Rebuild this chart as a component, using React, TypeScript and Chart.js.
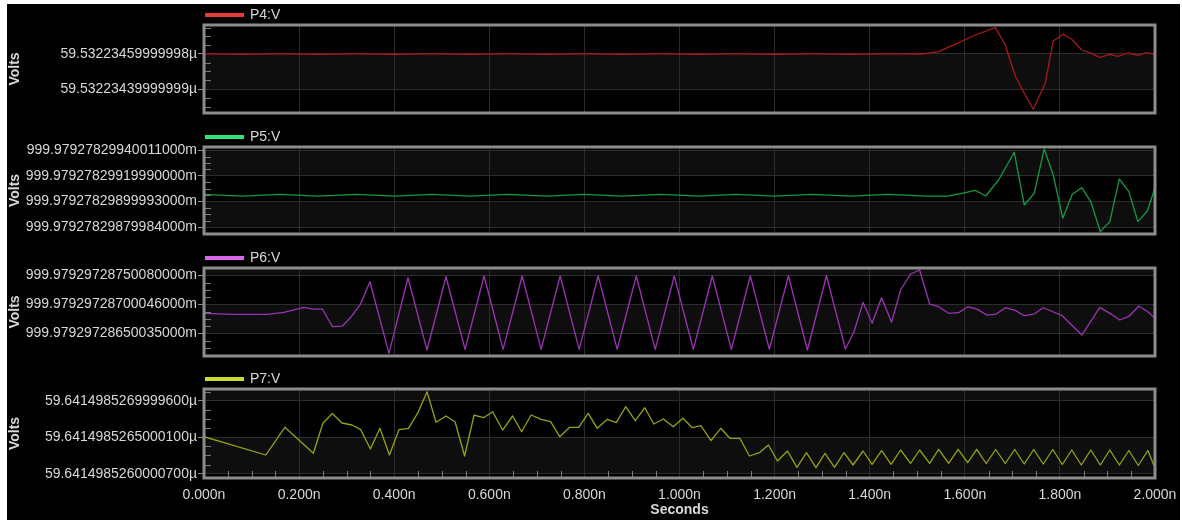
import React, { useEffect, useRef } from 'react';
import { Chart, registerables } from 'chart.js';

Chart.register(...registerables);

// ---------- data ----------
const X_TICKS = [0, 0.2, 0.4, 0.6, 0.8, 1.0, 1.2, 1.4, 1.6, 1.8, 2.0];
const X_TICK_LABELS = ['0.000n', '0.200n', '0.400n', '0.600n', '0.800n', '1.000n', '1.200n', '1.400n', '1.600n', '1.800n', '2.000n'];

const P4_T = [0, 0.08, 0.16, 0.24, 0.32, 0.40, 0.48, 0.56, 0.64, 0.72, 0.80, 0.88, 0.96, 1.04, 1.12, 1.20, 1.28, 1.36, 1.44, 1.51,
  1.545, 1.587, 1.622, 1.664, 1.685, 1.706, 1.727, 1.744, 1.769, 1.786, 1.807, 1.825, 1.846, 1.866, 1.884, 1.905, 1.922, 1.943, 1.964, 1.982, 2.0];
const P4_V = [59.5322346005, 59.5322345985, 59.5322346005, 59.5322345985, 59.5322346005, 59.5322345985, 59.5322346005, 59.5322345985,
  59.5322346005, 59.5322345985, 59.5322346005, 59.5322345985, 59.5322346005, 59.5322345985, 59.5322346005, 59.5322345985,
  59.5322346005, 59.5322345985, 59.5322346005, 59.5322346,
  59.5322346131, 59.5322346646, 59.5322347086, 59.5322347503, 59.5322346514, 59.5322344743, 59.5322343657, 59.532234284,
  59.5322344326, 59.5322346743, 59.5322347126, 59.532234684, 59.5322346229, 59.532234604, 59.5322345811, 59.5322345983,
  59.5322345869, 59.5322346057, 59.5322345926, 59.5322346074, 59.5322345983];
const P4_TICKS = [59.5322344, 59.5322346];
const P4_TICK_LABELS = ['59.53223439999999µ', '59.53223459999998µ'];
const P4_RANGE = [59.53223426286, 59.53223476571];

const P5_T = [0, 0.08, 0.16, 0.24, 0.32, 0.40, 0.48, 0.56, 0.64, 0.72, 0.80, 0.88, 0.96, 1.04, 1.12, 1.20, 1.28, 1.36, 1.44, 1.52,
  1.566, 1.594, 1.622, 1.644, 1.671, 1.704, 1.725, 1.746, 1.767, 1.786, 1.806, 1.826, 1.846, 1.865, 1.885, 1.905, 1.925, 1.945, 1.964, 1.984, 2.0];
const P5_V = [999.9792782990550, 999.9792782990420, 999.9792782990550, 999.9792782990420, 999.9792782990550, 999.9792782990420,
  999.9792782990550, 999.9792782990420, 999.9792782990550, 999.9792782990420, 999.9792782990550, 999.9792782990420,
  999.9792782990550, 999.9792782990420, 999.9792782990550, 999.9792782990420, 999.9792782990550, 999.9792782990420,
  999.9792782990550, 999.9792782990420,
  999.9792782990430, 999.9792782990641, 999.9792782990875, 999.9792782990430, 999.9792782991680, 999.9792782993844,
  999.9792782989727, 999.9792782990641, 999.9792782994102, 999.9792782992070, 999.9792782988688, 999.9792782990563,
  999.9792782991078, 999.9792782989984, 999.9792782987641, 999.9792782988422, 999.9792782991758, 999.9792782990766,
  999.9792782988422, 999.9792782989258, 999.9792782991078];
const P5_TICKS = [999.97927829879984, 999.97927829899993, 999.9792782991999, 999.97927829940011];
const P5_TICK_LABELS = ['999.97927829879984000m', '999.97927829899993000m', '999.97927829919990000m', '999.97927829940011000m'];
const P5_RANGE = [999.979278298746, 999.9792782994257];

const P6_T = [0, 0.064, 0.134, 0.168, 0.21, 0.228, 0.249, 0.27, 0.291, 0.308, 0.329,
  0.349, 0.389, 0.429, 0.469, 0.509, 0.549, 0.589, 0.629, 0.669, 0.709, 0.749, 0.789, 0.829, 0.869, 0.909, 0.949, 0.989,
  1.029, 1.069, 1.109, 1.149, 1.189, 1.229, 1.269, 1.309, 1.349,
  1.367, 1.386, 1.405, 1.425, 1.446, 1.465, 1.486, 1.505, 1.526, 1.545, 1.566, 1.587, 1.606, 1.627, 1.646, 1.666, 1.685,
  1.706, 1.725, 1.746, 1.765, 1.785, 1.805, 1.846, 1.884, 1.905, 1.926, 1.946, 1.966, 1.985, 2.0];
const P6_V = [999.9792972868488, 999.9792972868316, 999.9792972868316, 999.979297286866, 999.9792972869519, 999.9792972869227,
  999.9792972869227, 999.9792972866186, 999.9792972866306, 999.9792972867732, 999.9792972870034,
  999.9792972873918, 999.9792972861615, 999.9792972874605, 999.9792972862182, 999.9792972874777, 999.9792972862302,
  999.9792972874897, 999.9792972862302, 999.9792972874897, 999.9792972862302, 999.9792972874897, 999.9792972862302,
  999.9792972874897, 999.9792972862302, 999.9792972874897, 999.9792972862302, 999.9792972874897, 999.9792972862302,
  999.9792972874897, 999.9792972862302, 999.9792972874897, 999.9792972862302, 999.9792972874948, 999.9792972862182,
  999.9792972874948, 999.9792972862354,
  999.9792972865326, 999.9792972870378, 999.979297286677, 999.9792972871168, 999.9792972866942, 999.9792972872491,
  999.9792972875241, 999.9792972875928, 999.9792972870086, 999.9792972869622, 999.9792972868488, 999.9792972868591,
  999.9792972869622, 999.9792972869175, 999.9792972868196, 999.9792972868368, 999.979297286945, 999.9792972869003,
  999.9792972868076, 999.9792972868368, 999.979297286945, 999.9792972868763, 999.9792972868076, 999.9792972864759,
  999.9792972869519, 999.9792972868488, 999.9792972867337, 999.9792972868024, 999.9792972869742, 999.9792972868763,
  999.9792972867629];
const P6_TICKS = [999.97929728650035, 999.97929728700046, 999.9792972875008];
const P6_TICK_LABELS = ['999.97929728650035000m', '999.97929728700046000m', '999.97929728750080000m'];
const P6_RANGE = [999.9792972861156, 999.9792972876276];

const P7_T = [0, 0.13, 0.17, 0.23, 0.25, 0.27, 0.29, 0.311, 0.329, 0.35,
  0.37, 0.39, 0.41, 0.43, 0.45, 0.469, 0.488, 0.509, 0.528, 0.548,
  0.568, 0.588, 0.607, 0.628, 0.649, 0.668, 0.688, 0.709, 0.729, 0.748,
  0.769, 0.788, 0.808, 0.827, 0.848, 0.867, 0.887, 0.907, 0.927, 0.946,
  0.966, 0.987, 1.007, 1.027, 1.045, 1.066, 1.087, 1.106, 1.127, 1.147,
  1.168, 1.187, 1.206, 1.227, 1.247, 1.267, 1.287, 1.306, 1.326, 1.346,
  1.365, 1.386, 1.405, 1.425, 1.445, 1.465, 1.486, 1.505, 1.526, 1.545,
  1.566, 1.586, 1.606, 1.625, 1.645, 1.665, 1.685, 1.705, 1.725, 1.745,
  1.765, 1.785, 1.805, 1.825, 1.845, 1.865, 1.885, 1.905, 1.925, 1.945,
  1.965, 1.985, 2.0];
const P7_V = [59.6414985265068, 59.6414985262562, 59.6414985266356, 59.6414985262795, 59.6414985266904, 59.6414985268247, 59.6414985266945, 59.6414985266671, 59.6414985266082, 59.6414985263384,
  59.6414985266219, 59.6414985262562, 59.6414985266027, 59.6414985266219, 59.6414985268356, 59.6414985271233, 59.6414985267041, 59.6414985267904, 59.6414985267123, 59.6414985262425,
  59.6414985268041, 59.6414985267671, 59.6414985268493, 59.6414985265986, 59.6414985267904, 59.6414985265753, 59.6414985268041, 59.6414985267452, 59.6414985267123, 59.6414985265068,
  59.6414985266356, 59.6414985266356, 59.6414985268274, 59.6414985266219, 59.6414985267452, 59.6414985266986, 59.6414985269178, 59.641498526726, 59.6414985269041, 59.6414985266808,
  59.6414985267493, 59.6414985266438, 59.6414985267589, 59.6414985266301, 59.6414985266575, 59.6414985264521, 59.6414985266219, 59.6414985264849, 59.6414985264849, 59.6414985262425,
  59.6414985262877, 59.6414985263932, 59.641498526174, 59.641498526311, 59.6414985260877, 59.6414985262877, 59.6414985260822, 59.6414985262795, 59.6414985260877, 59.6414985262877,
  59.6414985261192, 59.641498526311, 59.6414985261288, 59.6414985263151, 59.6414985261288, 59.6414985263247, 59.6414985261425, 59.6414985263247, 59.6414985261425, 59.6414985263342,
  59.6414985261425, 59.6414985263342, 59.6414985261507, 59.6414985263342, 59.6414985261397, 59.6414985263315, 59.6414985261397, 59.6414985263315, 59.6414985261329, 59.6414985263315,
  59.6414985261329, 59.6414985263315, 59.641498526126, 59.6414985263247, 59.6414985261192, 59.6414985263247, 59.6414985261192, 59.6414985263247, 59.6414985261192, 59.6414985263178,
  59.6414985261123, 59.6414985263178, 59.6414985260781];
const P7_TICKS = [59.64149852600007, 59.64149852650001, 59.64149852699996];
const P7_TICK_LABELS = ['59.6414985260000700µ', '59.6414985265000100µ', '59.6414985269999600µ'];
const P7_RANGE = [59.6414985259411, 59.6414985271603];

// ---------- styling ----------
const FONT = '"Liberation Sans", Arial, sans-serif';
const TEXT = '#d8d8d8';
const GRID = '#2c2c2c';
const BAND = '#0e0e0e';
const FRAME = '#8c8c8c';

const PANELS = [
  { label: 'P4:V', t: P4_T, v: P4_V, ticks: P4_TICKS, labels: P4_TICK_LABELS, range: P4_RANGE, line: '#a8181b', swatch: '#e63a3d', top: 0, height: 121, padTop: 21, padBottom: 12 },
  { label: 'P5:V', t: P5_T, v: P5_V, ticks: P5_TICKS, labels: P5_TICK_LABELS, range: P5_RANGE, line: '#149a44', swatch: '#2fe575', top: 121, height: 122, padTop: 22, padBottom: 13 },
  { label: 'P6:V', t: P6_T, v: P6_V, ticks: P6_TICKS, labels: P6_TICK_LABELS, range: P6_RANGE, line: '#9c33b4', swatch: '#d766ec', top: 243, height: 121, padTop: 21, padBottom: 12 },
  { label: 'P7:V', t: P7_T, v: P7_V, ticks: P7_TICKS, labels: P7_TICK_LABELS, range: P7_RANGE, line: '#96a112', swatch: '#c9dc2c', top: 364, height: 152, padTop: 21, padBottom: 0 },
];

const decorPlugin = {
  id: 'scopeDecor',
  beforeDraw(chart: any, _args: any, opts: any) {
    const { ctx, chartArea: a, scales } = chart;
    const y = scales.y;
    ctx.save();
    ctx.fillStyle = '#000';
    ctx.fillRect(0, 0, chart.width, chart.height);
    const tv = y.ticks.map((t: any) => t.value);
    const p0 = y.getPixelForValue(tv[0]);
    const step = y.getPixelForValue(tv[1]) - p0;
    ctx.beginPath();
    ctx.rect(a.left, a.top, a.right - a.left, a.bottom - a.top);
    ctx.clip();
    ctx.fillStyle = opts.band;
    for (let k = -6; k <= tv.length + 6; k++) {
      if (((k % 2) + 2) % 2 !== 0) continue;
      const ya = p0 + k * step;
      const yb = p0 + (k + 1) * step;
      ctx.fillRect(a.left, Math.min(ya, yb), a.right - a.left, Math.abs(yb - ya));
    }
    ctx.restore();
  },
  afterDraw(chart: any, _args: any, opts: any) {
    const { ctx, chartArea: a, scales } = chart;
    const y = scales.y;
    const x = scales.x;
    ctx.save();
    ctx.strokeStyle = opts.minor;
    ctx.lineWidth = 1;
    ctx.beginPath();
    const tv = y.ticks.map((t: any) => t.value);
    const p0 = y.getPixelForValue(tv[0]);
    const ms = (y.getPixelForValue(tv[1]) - p0) / 4;
    for (let j = -60; j <= 60; j++) {
      if (j % 4 === 0) continue;
      const py = Math.round(p0 + j * ms) + 0.5;
      if (py <= a.top + 2 || py >= a.bottom - 2) continue;
      ctx.moveTo(a.left, py);
      ctx.lineTo(a.left + 7, py);
    }
    if (opts.xMinor) {
      const xv = x.ticks.map((t: any) => t.value);
      const q0 = x.getPixelForValue(xv[0]);
      const xs = (x.getPixelForValue(xv[1]) - q0) / 4;
      for (let j = 1; j < (xv.length - 1) * 4; j++) {
        if (j % 4 === 0) continue;
        const px = Math.round(q0 + j * xs) + 0.5;
        ctx.moveTo(px, a.bottom);
        ctx.lineTo(px, a.bottom - 7);
      }
    }
    ctx.stroke();
    ctx.strokeStyle = opts.frame;
    ctx.lineWidth = 3;
    ctx.strokeRect(a.left, a.top, a.right - a.left, a.bottom - a.top);
    const ds = chart.data.datasets[0];
    const ly = a.top - 10;
    ctx.fillStyle = opts.swatch;
    ctx.fillRect(a.left + 1, ly - 2, 39, 4);
    ctx.fillStyle = opts.text;
    ctx.font = `14px ${FONT}`;
    ctx.textBaseline = 'middle';
    ctx.textAlign = 'left';
    ctx.fillText(ds.label, a.left + 46, ly);
    ctx.restore();
  },
};

function makeConfig(p: any, isBottom: boolean): any {
  return {
    type: 'line',
    data: {
      datasets: [{
        label: p.label,
        data: p.t.map((t: number, i: number) => ({ x: t, y: p.v[i] })),
        borderColor: p.line,
        borderWidth: 1.3,
        pointRadius: 0,
        tension: 0,
        fill: false,
        borderJoinStyle: 'round',
      }],
    },
    options: {
      animation: false,
      responsive: false,
      maintainAspectRatio: false,
      devicePixelRatio: 1,
      events: [],
      layout: { padding: { top: p.padTop, bottom: p.padBottom, left: 0, right: 25 } },
      plugins: {
        legend: { display: false },
        tooltip: { enabled: false },
        scopeDecor: { band: BAND, minor: '#7a7a7a', frame: FRAME, swatch: p.swatch, text: TEXT, xMinor: isBottom },
      },
      scales: {
        x: {
          type: 'linear',
          min: 0,
          max: 2,
          bounds: 'data',
          afterBuildTicks: (s: any) => { s.ticks = X_TICKS.map((v) => ({ value: v })); },
          afterFit: (s: any) => {
            s.height = isBottom ? 42 : 0;
            s.paddingLeft = 0;
            s.paddingRight = 0;
          },
          grid: { color: GRID, lineWidth: 1, drawTicks: false },
          border: { display: false },
          ticks: {
            display: isBottom,
            autoSkip: false,
            maxRotation: 0,
            color: TEXT,
            font: { family: FONT, size: 14 },
            padding: 9,
            callback: (_v: any, i: number) => X_TICK_LABELS[i],
          },
          title: {
            display: isBottom,
            text: 'Seconds',
            color: TEXT,
            font: { family: FONT, size: 14, weight: 'bold' },
            padding: { top: 0, bottom: 1 },
          },
        },
        y: {
          type: 'linear',
          min: p.range[0],
          max: p.range[1],
          bounds: 'data',
          afterBuildTicks: (s: any) => { s.ticks = p.ticks.map((v: number) => ({ value: v })); },
          afterFit: (s: any) => {
            s.width = 197;
            s.paddingTop = 0;
            s.paddingBottom = 0;
          },
          grid: { color: GRID, lineWidth: 1, drawTicks: true, tickLength: 6, tickColor: '#8a8a8a' },
          border: { display: false },
          ticks: {
            autoSkip: false,
            color: TEXT,
            font: { family: FONT, size: 14 },
            padding: 1,
            callback: (_v: any, i: number) => p.labels[i],
          },
          title: {
            display: true,
            text: 'Volts',
            color: TEXT,
            font: { family: FONT, size: 14, weight: 'bold' },
            padding: 0,
          },
        },
      },
    },
    plugins: [decorPlugin],
  };
}

export default function App() {
  const r0 = useRef<HTMLCanvasElement>(null);
  const r1 = useRef<HTMLCanvasElement>(null);
  const r2 = useRef<HTMLCanvasElement>(null);
  const r3 = useRef<HTMLCanvasElement>(null);
  const refs = [r0, r1, r2, r3];

  useEffect(() => {
    const charts = PANELS.map((p, i) => new Chart(refs[i].current as HTMLCanvasElement, makeConfig(p, i === PANELS.length - 1)));
    return () => charts.forEach((c) => c.destroy());
  }, []);

  return (
    <div style={{ position: 'absolute', left: 7, top: 4, width: 1173, height: 516, background: '#000', overflow: 'hidden' }}>
      {PANELS.map((p, i) => (
        <canvas
          key={p.label}
          ref={refs[i]}
          width={1173}
          height={p.height}
          style={{ position: 'absolute', left: 0, top: p.top, width: 1173, height: p.height, display: 'block' }}
        />
      ))}
    </div>
  );
}
